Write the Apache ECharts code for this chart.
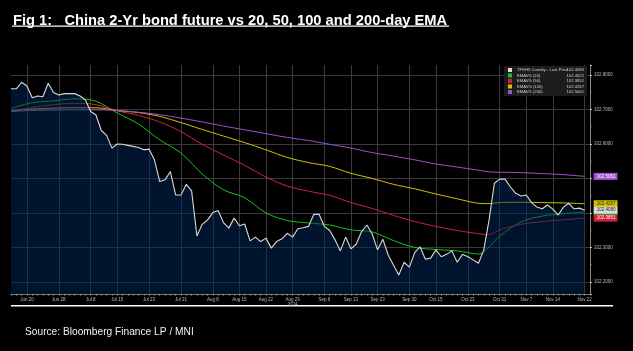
<!DOCTYPE html>
<html>
<head>
<meta charset="utf-8">
<script src="https://cdn.jsdelivr.net/npm/echarts@6/dist/echarts.min.js"></script>
<style>
  html, body { margin: 0; padding: 0; background: #000; }
  #main { width: 633px; height: 351px; }
</style>
</head>
<body>
<div id="main"></div>
<script>
// trading days on the x axis (last slot left empty, like the gap before the axis)
var dates = [
  'Jun 17','Jun 18','Jun 19','Jun 20','Jun 21','Jun 24','Jun 25','Jun 26','Jun 27','Jun 28',
  'Jul 1','Jul 2','Jul 3','Jul 4','Jul 5','Jul 8','Jul 9','Jul 10','Jul 11','Jul 12',
  'Jul 15','Jul 16','Jul 17','Jul 18','Jul 19','Jul 22','Jul 23','Jul 24','Jul 25','Jul 26',
  'Jul 29','Jul 30','Jul 31',
  'Aug 1','Aug 2','Aug 5','Aug 6','Aug 7','Aug 8','Aug 9','Aug 12','Aug 13','Aug 14',
  'Aug 15','Aug 16','Aug 19','Aug 20','Aug 21','Aug 22','Aug 23','Aug 26','Aug 27','Aug 28',
  'Aug 29','Aug 30',
  'Sep 2','Sep 3','Sep 4','Sep 5','Sep 6','Sep 9','Sep 10','Sep 11','Sep 12','Sep 13',
  'Sep 14','Sep 18','Sep 19','Sep 20','Sep 23','Sep 24','Sep 25','Sep 26','Sep 27','Sep 29',
  'Sep 30',
  'Oct 9','Oct 10','Oct 11','Oct 14','Oct 15','Oct 16','Oct 17','Oct 18','Oct 21','Oct 22',
  'Oct 23','Oct 24','Oct 25','Oct 28','Oct 29','Oct 30','Oct 31',
  'Nov 1','Nov 4','Nov 5','Nov 6','Nov 7','Nov 8','Nov 11','Nov 12','Nov 13','Nov 14',
  'Nov 15','Nov 18','Nov 19','Nov 20','Nov 21','Nov 22',
  ''
];
var tickLabels = ['Jun 20','Jun 28','Jul 8','Jul 15','Jul 23','Jul 31','Aug 8','Aug 15','Aug 22','Aug 29',
  'Sep 6','Sep 13','Sep 23','Sep 30','Oct 15','Oct 23','Oct 31','Nov 7','Nov 14','Nov 22'];

// last price, one value per trading day
var lastPrice = [
  102.760,102.760,102.779,102.768,102.734,102.739,102.737,102.776,102.749,102.742,
  102.746,102.746,102.746,102.739,102.728,102.694,102.684,102.639,102.625,102.588,
  102.600,102.599,102.596,102.593,102.590,102.583,102.585,102.554,102.491,102.496,
  102.520,102.452,102.452,102.483,102.464,102.333,102.367,102.380,102.401,102.407,
  102.372,102.356,102.385,102.363,102.368,102.319,102.330,102.317,102.327,102.298,
  102.317,102.325,102.341,102.330,102.354,102.357,102.361,102.396,102.396,102.361,
  102.349,102.322,102.290,102.330,102.296,102.310,102.346,102.365,102.339,102.293,
  102.324,102.278,102.249,102.220,102.257,102.243,102.285,102.302,102.266,102.269,
  102.293,102.273,102.280,102.290,102.257,102.280,102.273,102.264,102.254,102.293,
  102.380,102.486,102.498,102.498,102.476,102.457,102.449,102.452,102.430,102.417,
  102.412,102.423,102.411,102.394,102.417,102.428,102.412,102.414,102.408
];

// EMA lines read at these day indexes
var emaIdx = [0,4,8,12,16,20,24,28,32,36,40,44,48,52,56,60,64,68,72,76,80,84,88,90,92,96,100,104,108];
var ema20 = [102.703,102.720,102.725,102.731,102.724,102.690,102.658,102.612,102.574,102.513,
  102.467,102.444,102.400,102.378,102.371,102.365,102.351,102.345,102.320,102.300,
  102.294,102.290,102.281,102.301,102.333,102.374,102.391,102.398,102.4022];
var ema50 = [102.694,102.706,102.714,102.718,102.714,102.696,102.683,102.664,102.636,102.599,
  102.568,102.538,102.504,102.478,102.463,102.451,102.430,102.413,102.393,102.375,
  102.361,102.349,102.340,102.337,102.351,102.367,102.375,102.380,102.3851];
var ema100 = [102.696,102.701,102.704,102.705,102.705,102.697,102.691,102.680,102.662,102.642,
  102.623,102.604,102.583,102.561,102.546,102.535,102.515,102.500,102.483,102.470,
  102.455,102.441,102.428,102.427,102.430,102.431,102.430,102.429,102.4267];
var ema200 = [102.694,102.697,102.698,102.699,102.699,102.697,102.692,102.685,102.675,102.664,
  102.652,102.641,102.630,102.619,102.610,102.599,102.588,102.575,102.565,102.554,
  102.542,102.533,102.524,102.519,102.518,102.517,102.514,102.511,102.5061];

var names = ['TFSH5 Comdty - Last Price', 'EMAVG (20)', 'EMAVG (50)', 'EMAVG (100)', 'EMAVG (200)'];
var colors = ['#d9d9d9', '#19c319', '#d4213a', '#d4c200', '#a050d0'];
var tagText = ['#222', '#111', '#fff', '#222', '#fff'];

function pairs(vals) {
  return vals.map(function (v, i) { return [emaIdx[i], v]; });
}
var lastVals = [lastPrice[lastPrice.length - 1], ema20[ema20.length - 1], ema50[ema50.length - 1],
  ema100[ema100.length - 1], ema200[ema200.length - 1]];

function showDay(i, v) { return tickLabels.indexOf(v) >= 0; }

function endTag(k) {
  return {
    show: true,
    distance: 9,
    fontSize: 4.5,
    fontFamily: 'Liberation Sans',
    color: tagText[k],
    backgroundColor: colors[k],
    padding: [1, 2, 1, 3],
    formatter: function () { return lastVals[k].toFixed(4); }
  };
}

var gridCol = '#3a3a3a';
var myChart = echarts.init(document.getElementById('main'), null, { renderer: 'canvas' });
var option = {
  backgroundColor: '#000',
  animation: false,
  title: [{
    text: 'Fig 1:   China 2-Yr bond future vs 20, 50, 100 and 200-day EMA',
    left: 8, top: 8,
    textStyle: { color: '#fff', fontSize: 14.7, fontWeight: 'bold', fontFamily: 'Liberation Sans' }
  }, {
    text: 'Source: Bloomberg Finance LP / MNI',
    left: 20, top: 322,
    textStyle: { color: '#f0f0f0', fontSize: 10.2, fontWeight: 'normal', fontFamily: 'Liberation Sans' }
  }],
  graphic: [
    { type: 'rect', shape: { x: 12, y: 25.5, width: 437, height: 1.2 }, style: { fill: '#fff' } },
    { type: 'rect', shape: { x: 11, y: 305, width: 602, height: 1.6 }, style: { fill: '#fff' } }
  ],
  legend: {
    data: names,
    orient: 'vertical',
    left: 504, top: 66,
    padding: [2, 3, 2, 4],
    itemGap: 1.5,
    itemWidth: 4, itemHeight: 4,
    icon: 'rect',
    backgroundColor: '#1c1c1c',
    textStyle: { color: '#cfcfcf', fontSize: 4.2, fontFamily: 'Liberation Sans',
      rich: { n: { width: 52, fontSize: 4.2, color: '#cfcfcf' }, v: { width: 15, align: 'right', fontSize: 4.2, color: '#cfcfcf' } } },
    formatter: function (name) {
      var k = names.indexOf(name);
      return '{n|' + name + '}{v|' + lastVals[k].toFixed(4) + '}';
    }
  },
  grid: { left: 11, right: 43, top: 65, bottom: 57 },
  xAxis: {
    type: 'category',
    data: dates,
    boundaryGap: false,
    axisLine: { lineStyle: { color: '#777', width: 1 } },
    axisTick: { show: true, interval: 0, length: 1.5, lineStyle: { color: '#999' } },
    axisLabel: {
      interval: showDay,
      color: '#bbb', fontSize: 4.5, margin: 3, fontFamily: 'Liberation Sans',
      formatter: function (v) { return v === 'Aug 29' ? v + '\n2024' : v; }
    },
    splitLine: { show: true, interval: showDay, lineStyle: { color: gridCol, width: 1 } }
  },
  yAxis: {
    type: 'value',
    position: 'right',
    min: 102.165, max: 102.829,
    splitNumber: 7,
    axisLine: { show: true, lineStyle: { color: '#888' } },
    axisTick: { show: true, length: 2, lineStyle: { color: '#bbb' } },
    minorTick: { show: true, splitNumber: 2, length: 1.5, lineStyle: { color: '#888' } },
    axisLabel: {
      color: '#bbb', fontSize: 4.5, margin: 4, fontFamily: 'Liberation Sans',
      showMinLabel: false, showMaxLabel: false,
      formatter: function (v) { return v.toFixed(4); }
    },
    // edge ticks (min/max) get no grid line
    splitLine: { show: true, lineStyle: { color: ['rgba(0,0,0,0)', gridCol, gridCol, gridCol, gridCol, gridCol, gridCol, gridCol, 'rgba(0,0,0,0)'], width: 1 } }
  },
  series: [{
    name: names[0], type: 'line', data: lastPrice, symbol: 'none', z: 3,
    lineStyle: { color: colors[0], width: 1.1 },
    itemStyle: { color: colors[0] },
    areaStyle: { color: 'rgba(0, 42, 88, 0.72)', origin: 'start' },
    endLabel: endTag(0)
  }, {
    name: names[1], type: 'line', data: pairs(ema20), symbol: 'none', smooth: 0.3, z: 2,
    lineStyle: { color: colors[1], width: 1 }, itemStyle: { color: colors[1] }, endLabel: endTag(1)
  }, {
    name: names[2], type: 'line', data: pairs(ema50), symbol: 'none', smooth: 0.3, z: 2,
    lineStyle: { color: colors[2], width: 1 }, itemStyle: { color: colors[2] }, endLabel: endTag(2)
  }, {
    name: names[3], type: 'line', data: pairs(ema100), symbol: 'none', smooth: 0.3, z: 2,
    lineStyle: { color: colors[3], width: 1 }, itemStyle: { color: colors[3] }, endLabel: endTag(3)
  }, {
    name: names[4], type: 'line', data: pairs(ema200), symbol: 'none', smooth: 0.3, z: 2,
    lineStyle: { color: colors[4], width: 1 }, itemStyle: { color: colors[4] }, endLabel: endTag(4)
  }]
};
myChart.setOption(option, true);
</script>
</body>
</html>
